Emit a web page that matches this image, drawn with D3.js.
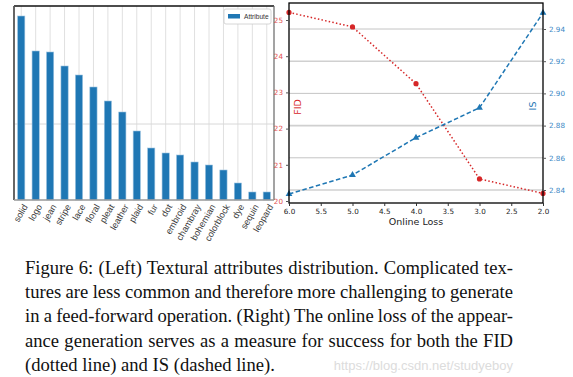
<!DOCTYPE html>
<html>
<head>
<meta charset="utf-8">
<script src="https://cdn.jsdelivr.net/npm/d3@7"></script>
<style>
  body { margin: 0; background: #fff; }
  svg { display: block; }
  .serif { font-family: "Liberation Serif", "Times New Roman", Times, serif; }
</style>
</head>
<body>
<svg id="fig" width="573" height="377"></svg>
<script>
// left panel: attribute counts (axis hidden in the original, units arbitrary)
let attributes = ["solid", "logo", "jean", "stripe", "lace", "floral", "pleat", "leather", "plaid",
  "fur", "dot", "embroid", "chambray", "bohemian", "colorblock", "dye", "sequin", "leopard"];
let attributeCounts = [184, 149, 148, 134, 125, 113, 99, 88, 69, 52, 47, 45, 38, 35, 30, 17, 8, 8];
let countGrid = [76];

// right panel: online loss vs FID / IS
let onlineLoss = [6.0, 5.0, 4.0, 3.0, 2.0];
let fidValues = [25.21, 24.81, 23.24, 20.61, 20.21];
let isValues = [2.8375, 2.8493, 2.8725, 2.8911, 2.950];
let lossTicks = [6.0, 5.5, 5.0, 4.5, 4.0, 3.5, 3.0, 2.5, 2.0];
let fidTicks = [20, 21, 22, 23, 24, 25];
let isTicks = [2.84, 2.86, 2.88, 2.90, 2.92, 2.94];

let captionLines = [
  "Figure 6: (Left) Textural attributes distribution. Complicated tex-",
  "tures are less common and therefore more challenging to generate",
  "in a feed-forward operation. (Right) The online loss of the appear-",
  "ance generation serves as a measure for success for both the FID",
  "(dotted line) and IS (dashed line)."
];

let blue = "#1f77b4";
let red = "#d62728";
let svg = d3.select("#fig");
let sans = "DejaVu Sans, sans-serif";

function drawBars() {
  let left = 14, right = 274, top = 6, bottom = 200;
  let x = d3.scaleBand().domain(attributes).range([left, right]).paddingInner(0.5).paddingOuter(0.25);
  let y = d3.scaleLinear().domain([0, 200]).range([bottom, bottom - 200]);
  let g = svg.append("g");

  // vertical grid at each bar
  g.selectAll(".vgrid").data(attributes).enter().append("line")
    .attr("x1", d => x(d) + x.bandwidth() / 2).attr("x2", d => x(d) + x.bandwidth() / 2)
    .attr("y1", top).attr("y2", bottom)
    .attr("stroke", "#e0e0e0").attr("stroke-width", 1);
  g.selectAll(".hgrid").data(countGrid).enter().append("line")
    .attr("x1", left).attr("x2", right)
    .attr("y1", d => y(d)).attr("y2", d => y(d))
    .attr("stroke", "#d8d8d8").attr("stroke-width", 1);

  g.selectAll(".bar").data(attributes).enter().append("rect")
    .attr("x", d => x(d))
    .attr("width", x.bandwidth())
    .attr("y", (d, i) => y(attributeCounts[i]))
    .attr("height", (d, i) => y(0) - y(attributeCounts[i]))
    .attr("fill", blue)
    .attr("stroke", "#9cc3e0").attr("stroke-width", 0.6);

  // frame
  g.append("line").attr("x1", left).attr("x2", right).attr("y1", top).attr("y2", top)
    .attr("stroke", "#111").attr("stroke-width", 1.5);
  g.append("line").attr("x1", left).attr("x2", left).attr("y1", top).attr("y2", bottom)
    .attr("stroke", "#555").attr("stroke-width", 1.8);
  g.append("line").attr("x1", right).attr("x2", right).attr("y1", top).attr("y2", bottom)
    .attr("stroke", "#666").attr("stroke-width", 1.2);
  g.append("line").attr("x1", left).attr("x2", right).attr("y1", bottom).attr("y2", bottom)
    .attr("stroke", "#999").attr("stroke-width", 1.5);

  // rotated labels
  g.selectAll(".lab").data(attributes).enter().append("text")
    .attr("transform", d => `translate(${x(d) + x.bandwidth() / 2 + 4},${bottom + 5}) rotate(-60)`)
    .attr("text-anchor", "end")
    .attr("dy", "0.35em")
    .attr("font-family", "Liberation Sans, Arial, sans-serif").attr("font-size", 9.1)
    .attr("fill", "#3a3a3a")
    .text(d => d);

  // legend
  let lg = g.append("g").attr("transform", "translate(224,9)");
  lg.append("rect").attr("width", 47).attr("height", 15).attr("rx", 2)
    .attr("fill", "#fff").attr("stroke", "#ccc").attr("stroke-width", 0.8);
  lg.append("rect").attr("x", 4).attr("y", 5).attr("width", 12).attr("height", 4.5).attr("fill", blue);
  lg.append("text").attr("x", 20).attr("y", 7.8).attr("dy", "0.35em")
    .attr("font-family", "Liberation Sans Narrow, Liberation Sans, sans-serif").attr("font-size", 6.6)
    .attr("fill", "#333").text("Attribute");
}

function drawLossChart() {
  let left = 289, right = 543, top = 3, bottom = 203;
  let x = d3.scaleLinear().domain([6.0, 2.0]).range([left, right]);
  let yFid = d3.scaleLinear().domain([20, 25]).range([201, 20]);
  let yIs = d3.scaleLinear().domain([2.84, 2.94]).range([190, 29]);
  let g = svg.append("g");

  g.append("rect").attr("x", left).attr("y", top).attr("width", right - left).attr("height", bottom - top)
    .attr("fill", "#fff");

  // grid from IS ticks
  g.selectAll(".grid").data(isTicks).enter().append("line")
    .attr("x1", left).attr("x2", right)
    .attr("y1", d => yIs(d)).attr("y2", d => yIs(d))
    .attr("stroke", (d, i) => i % 2 ? "#bdbdbd" : "#d0d0d0")
    .attr("stroke-width", (d, i) => i % 2 ? 0.9 : 1.6);

  // FID: dotted red with circles
  let fidLine = d3.line().x((d, i) => x(onlineLoss[i])).y(d => yFid(d));
  g.append("path").datum(fidValues).attr("d", fidLine)
    .attr("fill", "none").attr("stroke", red).attr("stroke-width", 1.5)
    .attr("stroke-dasharray", "1.5,2.2");
  g.selectAll(".fidpt").data(fidValues).enter().append("circle")
    .attr("cx", (d, i) => x(onlineLoss[i])).attr("cy", d => yFid(d)).attr("r", 2.6)
    .attr("fill", red);

  // IS: dashed blue with triangles
  let isLine = d3.line().x((d, i) => x(onlineLoss[i])).y(d => yIs(d));
  g.append("path").datum(isValues).attr("d", isLine)
    .attr("fill", "none").attr("stroke", blue).attr("stroke-width", 1.5)
    .attr("stroke-dasharray", "4.5,2.5");
  let tri = d3.symbol().type(d3.symbolTriangle).size(20);
  g.selectAll(".ispt").data(isValues).enter().append("path")
    .attr("d", tri)
    .attr("transform", (d, i) => `translate(${x(onlineLoss[i])},${yIs(d)})`)
    .attr("fill", blue);

  g.append("rect").attr("x", left).attr("y", top).attr("width", right - left).attr("height", bottom - top)
    .attr("fill", "none").attr("stroke", "#000").attr("stroke-width", 1.3);

  // axes
  let axX = d3.axisBottom(x).tickValues(lossTicks).tickFormat(d3.format(".1f")).tickSize(3);
  let gX = g.append("g").attr("transform", `translate(0,${bottom})`).call(axX);
  let axF = d3.axisLeft(yFid).tickValues(fidTicks).tickFormat(d3.format("d")).tickSize(3);
  let gF = g.append("g").attr("transform", `translate(${left},0)`).call(axF);
  let axI = d3.axisRight(yIs).tickValues(isTicks).tickFormat(d3.format(".2f")).tickSize(3);
  let gI = g.append("g").attr("transform", `translate(${right},0)`).call(axI);
  [gX, gF, gI].forEach(a => {
    a.select(".domain").remove();
    a.selectAll("text").attr("font-family", sans).attr("font-size", 7.2);
  });
  gX.selectAll("text").attr("fill", "#222");
  gX.selectAll("line").attr("stroke", "#333");
  gF.selectAll("text").attr("fill", "#e35050");
  gF.selectAll("line").attr("stroke", "#555");
  gI.selectAll("text").attr("fill", "#3a88c5");
  gI.selectAll("line").attr("stroke", "#555");

  g.append("text").attr("x", (left + right) / 2).attr("y", 225)
    .attr("text-anchor", "middle").attr("font-family", sans).attr("font-size", 9.5)
    .attr("fill", "#222").text("Online Loss");
  g.append("text").attr("transform", `translate(${left + 9},107) rotate(-90)`)
    .attr("text-anchor", "middle").attr("dy", "0.35em")
    .attr("font-family", sans).attr("font-size", 9.5).attr("fill", red).text("FID");
  g.append("text").attr("transform", `translate(${right - 10},106) rotate(-90)`)
    .attr("text-anchor", "middle").attr("dy", "0.35em")
    .attr("font-family", sans).attr("font-size", 9.5).attr("fill", blue).text("IS");
}

function drawCaption() {
  svg.append("text").attr("x", 513).attr("y", 370).attr("text-anchor", "end")
    .attr("font-family", "Liberation Sans, sans-serif").attr("font-size", 13)
    .attr("fill", "#dcdcdc").text("https://blog.csdn.net/studyeboy");
  let lines = svg.selectAll(".cap").data(captionLines).enter().append("text")
    .attr("class", "serif")
    .attr("x", 25).attr("y", (d, i) => 274 + i * 24.2)
    .attr("font-size", 18.6)
    .attr("fill", "#111")
    .text(d => d);
  // justify all but the last line by widening the word gaps
  lines.each(function(d, i) {
    if (i == captionLines.length - 1) return;
    let w = this.getComputedTextLength();
    let gaps = d.split(" ").length - 1;
    d3.select(this).attr("word-spacing", (488 - w) / gaps);
  });
}

drawBars();
drawLossChart();
drawCaption();
</script>
</body>
</html>
